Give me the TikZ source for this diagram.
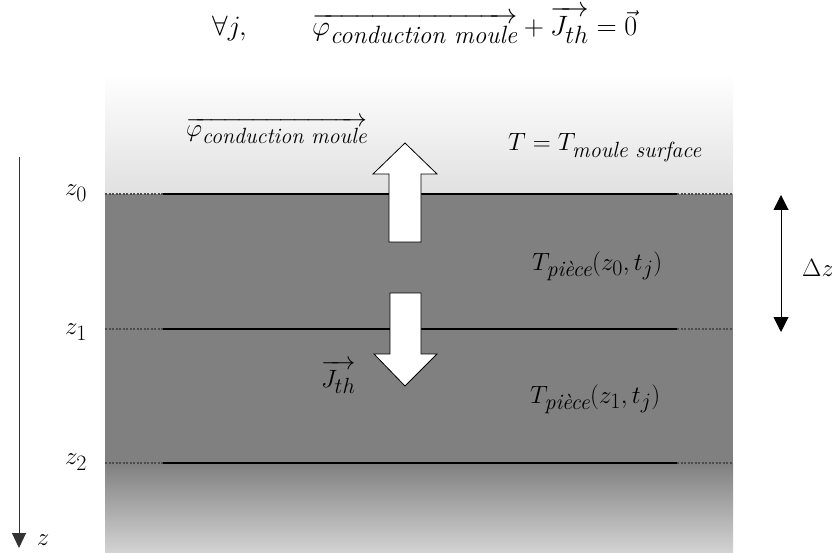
\RequirePackage{fix-cm}
\documentclass[tikz,border=0pt]{standalone}
\usepackage{amsmath}
\usetikzlibrary{arrows.meta}
\DeclareMathSizes{25}{25}{22}{16}
\DeclareMathSizes{28}{28}{25}{18}
\begin{document}
\begin{tikzpicture}[x=1pt,y=-1pt,
  lbl/.style={font=\fontsize{25}{30}\selectfont, inner sep=0pt},
  ttl/.style={font=\fontsize{28}{34}\selectfont, inner sep=0pt},
  layerline/.style={line width=1.3pt, black},
  layerdash/.style={line width=1.2pt, black!70, dash pattern=on 2pt off 1.5pt},
  blockarrow/.style={fill=white, draw=black, line width=0.8pt, line join=miter},
  dimarrow/.style={line width=1pt, {Triangle[width=15pt,length=15pt]}-{Triangle[width=15pt,length=15pt]}},
  axisarrow/.style={line width=1pt, black!80, -{Triangle[width=14pt,length=15pt]}}]
\useasboundingbox (0,0) rectangle (832,553);
% background layers
\shade[top color=white, bottom color=black!12] (105,73) rectangle (733,194);
\fill[black!50] (105,194) rectangle (733,463);
\shade[top color=black!50, bottom color=black!17] (105,463) rectangle (733,553);
% layer lines
\foreach \yy in {194,329,463} {
  \draw[layerline] (163,\yy) -- (677,\yy);
  \draw[layerdash] (105,\yy) -- (163,\yy) (677,\yy) -- (733,\yy);
}
% block arrows
\draw[blockarrow] (389,242) -- (389,174) -- (373,174) -- (405,143) -- (437,174) -- (421,174) -- (421,242) -- cycle;
\draw[blockarrow] (390,293) -- (390,354) -- (374,354) -- (405,386) -- (437,354) -- (421,354) -- (421,293) -- cycle;
% axis
\coordinate (axtop) at (19,157);
\coordinate (axbot) at (19,548);
\draw[axisarrow] (axtop) -- (axbot);
\node[lbl, anchor=center] (zlab) at (43,540) {$z$};
\node[lbl, anchor=center] (z0) at (76,193) {$z_0$};
\node[lbl, anchor=center] (z1) at (76,332) {$z_1$};
\node[lbl, anchor=center] (z2) at (76,462) {$z_2$};
% delta z
\coordinate (dzt) at (781,195);
\coordinate (dzb) at (781,332);
\draw[dimarrow] (dzt) -- (dzb);
\node[lbl, anchor=west] (dz) at (802,268) {$\Delta z$};
% labels
\node[lbl, anchor=base west] (phi) at (186,137) {$\overrightarrow{\varphi_{\text{\itshape conduction moule}}}$};
\node[lbl, anchor=base west] (tms) at (508,151) {$T = T_{\text{\itshape moule surface}}$};
\node[lbl, anchor=base west] (tp0) at (532,270) {$T_{\text{\itshape pièce}}(z_0,t_j)$};
\node[lbl, anchor=base west] (tp1) at (530,403) {$T_{\text{\itshape pièce}}(z_1,t_j)$};
\node[lbl, anchor=base west] (jth) at (321,387) {$\overrightarrow{J_{th}}$};
% title
\node[ttl, anchor=base west] (forall) at (212,36) {$\forall j,$};
\node[ttl, anchor=base west] (eq) at (312,36) {$\overrightarrow{\varphi_{\text{\itshape conduction moule}}} + \overrightarrow{J_{th}} = \vec{0}$};
\end{tikzpicture}
\end{document}
